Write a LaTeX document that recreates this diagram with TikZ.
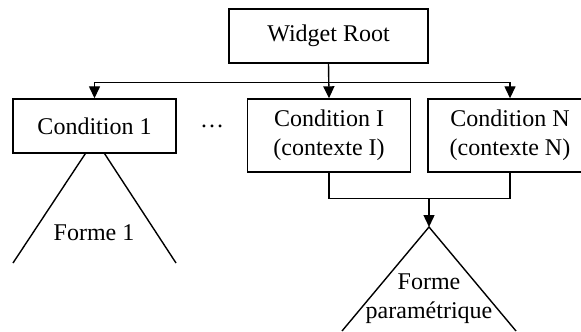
\documentclass[tikz,border=0pt]{standalone}
\usepackage{fontspec}
\setmainfont{Liberation Serif}
\usetikzlibrary{arrows.meta, positioning}

\begin{document}
\begin{tikzpicture}[x=0.5pt, y=-0.5pt, line width=0.7pt,
    font=\fontsize{12}{14.5}\selectfont,
    condbox/.style={draw, fill=white, minimum width=81.5pt, align=center, inner sep=0pt},
    tip/.style={-{Triangle[length=6pt, width=5.5pt]}}]
\useasboundingbox (0,0) rectangle (581,331);
\clip (0,0) rectangle (581,331);

% shapes under the condition boxes
\draw (13,263) -- (95,139) -- (176,263);
\coordinate (apexP) at (429,227);
\draw (342,331) -- (apexP) -- (516,331);

\node[draw, fill=white, minimum width=99.5pt, minimum height=27pt] (root) at (328.5,36) {Widget Root};
\node[condbox, minimum height=27pt] (cond1) at (94.5,126) {Condition 1};
\node (dots) at (212,126) {\ldots};
\node[condbox, minimum height=36.5pt] (condI) at (329,135.5) {Condition I\\(contexte I)};
\node[condbox, minimum height=36.5pt, minimum width=82pt] (condN) at (510,135.5) {Condition N\\(contexte N)};

\node (forme1) at (94,233) {Forme 1};
\node[align=center] (formeP) at (429,299) {Forme\\paramétrique};

\draw[tip] (root.south) -- ++(0,19) -| (cond1.north);
\draw[tip] (root.south) -- (condI.north);
\draw[tip] (root.south) -- ++(0,19) -| (condN.north);

\draw (condI.south) -- ++(0,26) -| (condN.south);
\coordinate (merge) at (429,198);
\draw[tip] (merge) -- (apexP);

\end{tikzpicture}
\end{document}
